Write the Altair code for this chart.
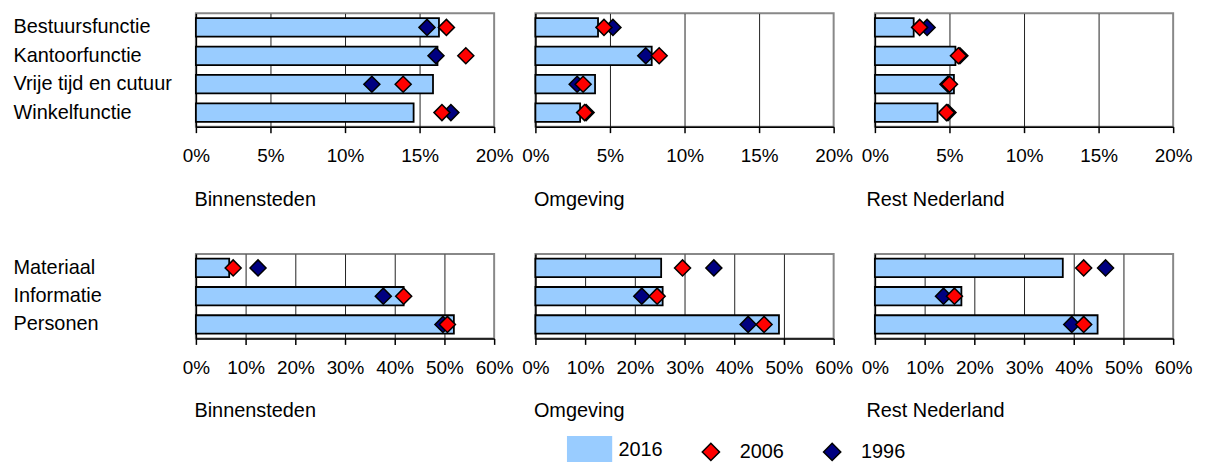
import altair as alt
import pandas as pd

FONT = "Liberation Sans"

regions = ["Binnensteden", "Omgeving", "Rest Nederland"]
years = ["2016", "2006", "1996"]

functies = ["Bestuursfunctie", "Kantoorfunctie", "Vrije tijd en cutuur", "Winkelfunctie"]
vervoer = ["Materiaal", "Informatie", "Personen"]

# Top row (functies), values in %
binnen_func_2016 = [16.3, 16.2, 15.9, 14.6]
binnen_func_2006 = [16.8, 18.1, 13.9, 16.5]
binnen_func_1996 = [15.5, 16.1, 11.8, 17.1]

omg_func_2016 = [4.2, 7.8, 4.0, 3.0]
omg_func_2006 = [4.6, 8.3, 3.2, 3.3]
omg_func_1996 = [5.2, 7.4, 2.8, 3.4]

rest_func_2016 = [2.6, 5.4, 5.3, 4.2]
rest_func_2006 = [3.0, 5.6, 5.0, 4.8]
rest_func_1996 = [3.5, 5.7, 4.9, 4.9]

# Bottom row (vervoer), values in %
binnen_verv_2016 = [6.7, 41.8, 51.9]
binnen_verv_2006 = [7.5, 41.8, 50.6]
binnen_verv_1996 = [12.5, 37.7, 49.7]

omg_verv_2016 = [25.3, 25.6, 49.0]
omg_verv_2006 = [29.6, 24.5, 46.0]
omg_verv_1996 = [35.9, 21.4, 42.8]

rest_verv_2016 = [37.8, 17.4, 44.8]
rest_verv_2006 = [42.0, 16.0, 42.0]
rest_verv_1996 = [46.4, 13.8, 39.6]

top_ticks = [0, 0.05, 0.10, 0.15, 0.20]
bottom_ticks = [0, 0.1, 0.2, 0.3, 0.4, 0.5, 0.6]

top_data = {
    "Binnensteden": (binnen_func_2016, binnen_func_2006, binnen_func_1996),
    "Omgeving": (omg_func_2016, omg_func_2006, omg_func_1996),
    "Rest Nederland": (rest_func_2016, rest_func_2006, rest_func_1996),
}
bottom_data = {
    "Binnensteden": (binnen_verv_2016, binnen_verv_2006, binnen_verv_1996),
    "Omgeving": (omg_verv_2016, omg_verv_2006, omg_verv_1996),
    "Rest Nederland": (rest_verv_2016, rest_verv_2006, rest_verv_1996),
}

RECT = "M-2.54,-1.5L2.54,-1.5L2.54,1.5L-2.54,1.5Z"
color_scale = alt.Scale(domain=years, range=["#99CCFF", "#FF0000", "#000080"])
shape_scale = alt.Scale(domain=years, range=[RECT, "diamond", "diamond"])
stroke_scale = alt.Scale(domain=years, range=["#99CCFF", "#000000", "#000000"])

legend = alt.Legend(
    title=None, orient="none", legendX=386, legendY=429, direction="horizontal",
    symbolSize=300, symbolStrokeWidth=1.5, symbolOpacity=1,
    labelFontSize=20, labelFont=FONT, labelColor="black", labelOffset=19,
    columnPadding=36, padding=0,
)


def panel(cats, vals, ticks, title, title_x, show_labels, height):
    v2016, v2006, v1996 = vals
    bars = pd.DataFrame({"category": cats, "year": "2016", "value": [v / 100 for v in v2016]})
    pts = pd.concat([
        pd.DataFrame({"category": cats, "year": "1996", "value": [v / 100 for v in v1996]}),
        pd.DataFrame({"category": cats, "year": "2006", "value": [v / 100 for v in v2006]}),
    ], ignore_index=True)
    xmax = ticks[-1]
    x = alt.X(
        "value:Q",
        scale=alt.Scale(domain=[0, xmax], nice=False, zero=True),
        axis=alt.Axis(
            values=ticks, format=".0%", labelFlush=False, labelOverlap=False,
            labelFontSize=19, labelFont=FONT, labelColor="black", labelPadding=14,
            tickSize=6, tickColor="black", tickWidth=1.5,
            domainColor="black", domainWidth=1.5,
            grid=True, gridColor="#222222", gridWidth=1,
            gridOpacity={"condition": {"test": f"datum.value <= 0 || datum.value >= {xmax - 1e-9}", "value": 0}, "value": 1},
            title=title, titleX=title_x, titleY=73, titleAlign="left", titleAnchor="start",
            titleBaseline="middle", titleFontSize=20, titleFont=FONT,
            titleFontWeight="normal", titleColor="black",
        ),
    )
    y = alt.Y(
        "category:N", sort=cats,
        scale=alt.Scale(domain=cats, paddingInner=0.35, paddingOuter=0.17),
        axis=alt.Axis(
            title=None, labels=show_labels, ticks=False, tickSize=0,
            domainColor="black", domainWidth=1.5, grid=False,
            labelAlign="left", labelPadding=184, labelFontSize=20, labelFont=FONT,
            labelColor="black", labelLimit=0,
        ),
    )
    bar_layer = alt.Chart(bars).mark_bar(stroke="black", strokeWidth=1.8, opacity=1).encode(
        x=x, y=y,
        color=alt.Color("year:N", scale=color_scale, legend=legend),
    )
    pt_layer = alt.Chart(pts).mark_point(filled=True, size=260, opacity=1, strokeWidth=1.5).encode(
        x=x, y=y,
        color=alt.Color("year:N", scale=color_scale, legend=legend),
        shape=alt.Shape("year:N", scale=shape_scale, legend=legend),
        stroke=alt.Stroke("year:N", scale=stroke_scale, legend=legend),
    )
    return alt.layer(bar_layer, pt_layer).properties(width=300, height=height)


title_offsets = {"Binnensteden": -2, "Omgeving": -2, "Rest Nederland": -9}

panels = [panel(functies, top_data[r], top_ticks, r, title_offsets[r], i == 0, 114) for i, r in enumerate(regions)]
panels += [panel(vervoer, bottom_data[r], bottom_ticks, r, title_offsets[r], i == 0, 85) for i, r in enumerate(regions)]

chart = alt.concat(
    *panels, columns=3, spacing={"row": 128, "column": 41.5}, bounds="flush",
).properties(
    padding={"left": 4, "top": 3, "right": 5, "bottom": 5},
    background="white",
).configure(font=FONT).configure_view(stroke="#888888", strokeWidth=2)

chart.save("out.html", embed_options={"renderer": "svg", "actions": False})
